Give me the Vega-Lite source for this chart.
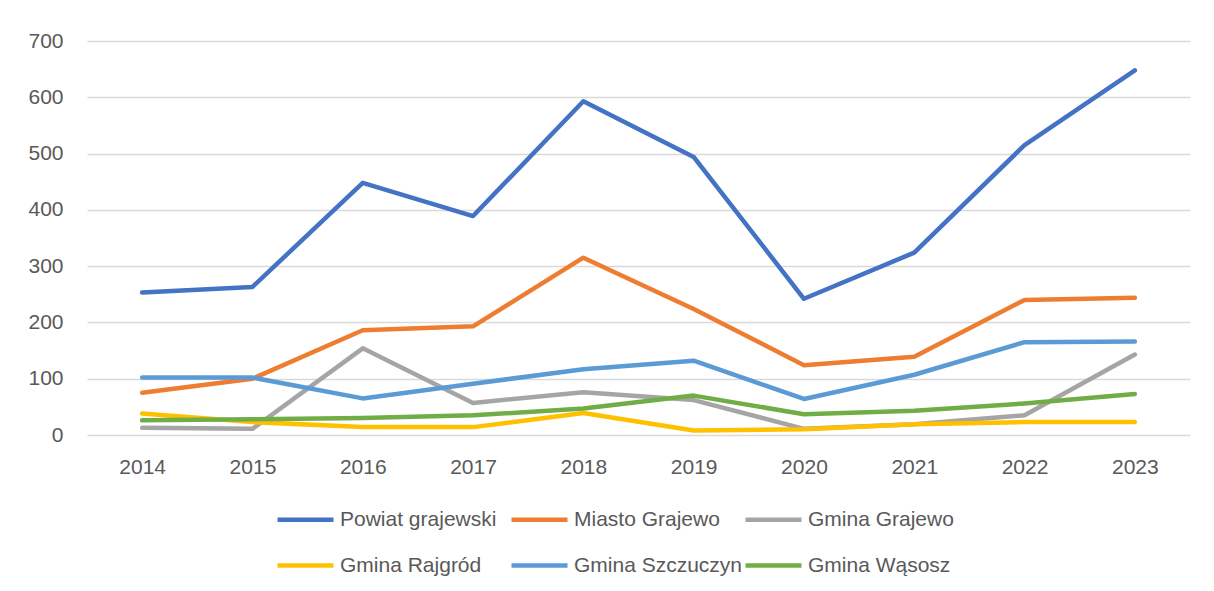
{
  "$schema": "https://vega.github.io/schema/vega-lite/v6.json",
  "width": 1103,
  "height": 394,
  "autosize": {"type": "none"},
  "padding": {"left": 87, "top": 41, "right": 24, "bottom": 156},
  "background": "white",
  "config": {
    "view": {"stroke": null},
    "font": "Liberation Sans"
  },
  "data": {
    "values": [
      {"year": "2014", "series": "Powiat grajewski", "value": 253},
      {"year": "2015", "series": "Powiat grajewski", "value": 263},
      {"year": "2016", "series": "Powiat grajewski", "value": 448},
      {"year": "2017", "series": "Powiat grajewski", "value": 389},
      {"year": "2018", "series": "Powiat grajewski", "value": 593},
      {"year": "2019", "series": "Powiat grajewski", "value": 494},
      {"year": "2020", "series": "Powiat grajewski", "value": 242},
      {"year": "2021", "series": "Powiat grajewski", "value": 324},
      {"year": "2022", "series": "Powiat grajewski", "value": 515},
      {"year": "2023", "series": "Powiat grajewski", "value": 648},
      {"year": "2014", "series": "Miasto Grajewo", "value": 75},
      {"year": "2015", "series": "Miasto Grajewo", "value": 100},
      {"year": "2016", "series": "Miasto Grajewo", "value": 186},
      {"year": "2017", "series": "Miasto Grajewo", "value": 193},
      {"year": "2018", "series": "Miasto Grajewo", "value": 315},
      {"year": "2019", "series": "Miasto Grajewo", "value": 224},
      {"year": "2020", "series": "Miasto Grajewo", "value": 124},
      {"year": "2021", "series": "Miasto Grajewo", "value": 139},
      {"year": "2022", "series": "Miasto Grajewo", "value": 240},
      {"year": "2023", "series": "Miasto Grajewo", "value": 244},
      {"year": "2014", "series": "Gmina Grajewo", "value": 13},
      {"year": "2015", "series": "Gmina Grajewo", "value": 11},
      {"year": "2016", "series": "Gmina Grajewo", "value": 154},
      {"year": "2017", "series": "Gmina Grajewo", "value": 57},
      {"year": "2018", "series": "Gmina Grajewo", "value": 76},
      {"year": "2019", "series": "Gmina Grajewo", "value": 62},
      {"year": "2020", "series": "Gmina Grajewo", "value": 11},
      {"year": "2021", "series": "Gmina Grajewo", "value": 19},
      {"year": "2022", "series": "Gmina Grajewo", "value": 35},
      {"year": "2023", "series": "Gmina Grajewo", "value": 143},
      {"year": "2014", "series": "Gmina Rajgród", "value": 38},
      {"year": "2015", "series": "Gmina Rajgród", "value": 23},
      {"year": "2016", "series": "Gmina Rajgród", "value": 14},
      {"year": "2017", "series": "Gmina Rajgród", "value": 14},
      {"year": "2018", "series": "Gmina Rajgród", "value": 39},
      {"year": "2019", "series": "Gmina Rajgród", "value": 8},
      {"year": "2020", "series": "Gmina Rajgród", "value": 10},
      {"year": "2021", "series": "Gmina Rajgród", "value": 19},
      {"year": "2022", "series": "Gmina Rajgród", "value": 23},
      {"year": "2023", "series": "Gmina Rajgród", "value": 23},
      {"year": "2014", "series": "Gmina Szczuczyn", "value": 102},
      {"year": "2015", "series": "Gmina Szczuczyn", "value": 102},
      {"year": "2016", "series": "Gmina Szczuczyn", "value": 65},
      {"year": "2017", "series": "Gmina Szczuczyn", "value": 91},
      {"year": "2018", "series": "Gmina Szczuczyn", "value": 117},
      {"year": "2019", "series": "Gmina Szczuczyn", "value": 132},
      {"year": "2020", "series": "Gmina Szczuczyn", "value": 64},
      {"year": "2021", "series": "Gmina Szczuczyn", "value": 107},
      {"year": "2022", "series": "Gmina Szczuczyn", "value": 165},
      {"year": "2023", "series": "Gmina Szczuczyn", "value": 166},
      {"year": "2014", "series": "Gmina Wąsosz", "value": 26},
      {"year": "2015", "series": "Gmina Wąsosz", "value": 28},
      {"year": "2016", "series": "Gmina Wąsosz", "value": 30},
      {"year": "2017", "series": "Gmina Wąsosz", "value": 35},
      {"year": "2018", "series": "Gmina Wąsosz", "value": 47},
      {"year": "2019", "series": "Gmina Wąsosz", "value": 70},
      {"year": "2020", "series": "Gmina Wąsosz", "value": 37},
      {"year": "2021", "series": "Gmina Wąsosz", "value": 43},
      {"year": "2022", "series": "Gmina Wąsosz", "value": 56},
      {"year": "2023", "series": "Gmina Wąsosz", "value": 73}
    ]
  },
  "mark": {"type": "line", "strokeWidth": 4.5, "strokeCap": "round", "strokeJoin": "round"},
  "encoding": {
    "x": {
      "field": "year",
      "type": "ordinal",
      "scale": {"type": "point", "padding": 0.5},
      "axis": {
        "title": null,
        "labelAngle": 0,
        "ticks": false,
        "domain": false,
        "grid": false,
        "labelFontSize": 21,
        "labelColor": "#595959",
        "labelPadding": 21
      }
    },
    "y": {
      "field": "value",
      "type": "quantitative",
      "scale": {"domain": [0, 700], "nice": false},
      "axis": {
        "title": null,
        "values": [0, 100, 200, 300, 400, 500, 600, 700],
        "ticks": false,
        "domain": false,
        "gridColor": "#d9d9d9",
        "gridWidth": 1.3,
        "labelFontSize": 21,
        "labelColor": "#595959",
        "labelPadding": 24
      }
    },
    "color": {
      "field": "series",
      "type": "nominal",
      "sort": null,
      "scale": {
        "domain": ["Powiat grajewski", "Miasto Grajewo", "Gmina Grajewo", "Gmina Rajgród", "Gmina Szczuczyn", "Gmina Wąsosz"],
        "range": ["#4472C4", "#ED7D31", "#A5A5A5", "#FFC000", "#5B9BD5", "#70AD47"]
      },
      "legend": {
        "title": null,
        "orient": "none",
        "legendX": 188,
        "legendY": 448,
        "direction": "horizontal",
        "columns": 3,
        "gridAlign": "all",
        "symbolType": "stroke",
        "symbolSize": 3136,
        "symbolStrokeWidth": 4.5,
        "labelFontSize": 21,
        "labelColor": "#595959",
        "labelOffset": 4,
        "columnPadding": -16,
        "rowPadding": 5,
        "labelLimit": 300
      }
    }
  }
}
